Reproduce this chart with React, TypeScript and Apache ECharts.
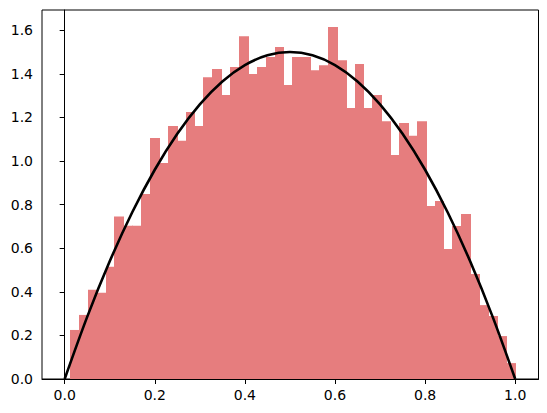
import React, { useEffect, useRef } from "react";
import * as echarts from "echarts";

// Histogram (density) of 50 bins between binStart and binEnd
const binStart = 0.0118;
const binEnd = 0.9987;
const densities = [
  0.225, 0.294, 0.41, 0.396, 0.515, 0.745, 0.703, 0.703, 0.849, 1.106,
  0.991, 1.161, 1.093, 1.225, 1.161, 1.385, 1.422, 1.303, 1.431, 1.573,
  1.399, 1.431, 1.477, 1.523, 1.349, 1.477, 1.477, 1.417, 1.44, 1.615,
  1.463, 1.243, 1.445, 1.243, 1.303, 1.183, 1.028, 1.174, 1.116, 1.183,
  0.794, 0.817, 0.596, 0.702, 0.757, 0.482, 0.339, 0.289, 0.197, 0.073,
];

// Density curve points
const curveX = [
  0, 0.05, 0.1, 0.15, 0.2, 0.25, 0.3, 0.35, 0.4, 0.45, 0.5,
  0.55, 0.6, 0.65, 0.7, 0.75, 0.8, 0.85, 0.9, 0.95, 1.0,
];
const curveY = [
  0, 0.285, 0.54, 0.765, 0.96, 1.125, 1.26, 1.365, 1.44, 1.485, 1.5,
  1.485, 1.44, 1.365, 1.26, 1.125, 0.96, 0.765, 0.54, 0.285, 0,
];

const xTicks = [0, 0.2, 0.4, 0.6, 0.8, 1.0];
const yTicks = [0, 0.2, 0.4, 0.6, 0.8, 1.0, 1.2, 1.4, 1.6];

export default function App() {
  const ref = useRef<HTMLDivElement>(null);

  useEffect(() => {
    if (!ref.current) return;
    const chart = echarts.init(ref.current, null, { renderer: "svg" });
    const binW = (binEnd - binStart) / densities.length;
    const histData = densities.map((h, i) => [
      binStart + i * binW,
      binStart + (i + 1) * binW,
      h,
    ]);
    const curveData = curveX.map((x, i) => [x, curveY[i]]);
    const font = "DejaVu Sans";

    chart.setOption({
      animation: false,
      grid: {
        left: 42,
        right: 8.5,
        top: 10,
        bottom: 34,
        show: true,
        borderColor: "#000",
        borderWidth: 1,
        backgroundColor: "transparent",
      },
      xAxis: {
        type: "value",
        min: -0.0503,
        max: 1.0517,
        splitLine: { show: false },
        axisLine: { show: true, onZero: false, lineStyle: { color: "#000", width: 1 } },
        axisTick: {
          show: true,
          length: 5,
          customValues: xTicks,
          lineStyle: { color: "#000", width: 1 },
        },
        axisLabel: {
          customValues: xTicks,
          margin: 9,
          color: "#000",
          fontFamily: font,
          fontSize: 14,
          formatter: (v: number) => v.toFixed(1),
        },
      },
      yAxis: {
        type: "value",
        min: 0,
        max: 1.693,
        splitLine: { show: false },
        axisLine: { show: true, lineStyle: { color: "#000", width: 1 } },
        axisTick: {
          show: true,
          length: 5,
          customValues: yTicks,
          lineStyle: { color: "#000", width: 1 },
        },
        axisLabel: {
          customValues: yTicks,
          margin: 9,
          color: "#000",
          fontFamily: font,
          fontSize: 14,
          formatter: (v: number) => v.toFixed(1),
        },
      },
      series: [
        {
          type: "custom",
          data: histData,
          clip: true,
          renderItem: (params: any, api: any) => {
            const p0 = api.coord([api.value(0), api.value(2)]);
            const p1 = api.coord([api.value(1), 0]);
            const x0 = Math.round(p0[0]);
            const x1 = Math.round(p1[0]);
            return {
              type: "rect",
              shape: {
                x: x0,
                y: p0[1],
                width: x1 - x0 + 1,
                height: p1[1] - p0[1],
              },
              style: { fill: "rgb(230,125,126)", stroke: "none" },
            };
          },
        },
        {
          type: "line",
          data: curveData,
          smooth: 0.3,
          showSymbol: false,
          symbol: "none",
          lineStyle: { color: "#000", width: 2.6 },
          z: 5,
        },
      ],
    });
    return () => chart.dispose();
  }, []);

  return (
    <div
      ref={ref}
      style={{ position: "fixed", left: 0, top: 0, width: 547, height: 413, background: "#fff" }}
    />
  );
}
